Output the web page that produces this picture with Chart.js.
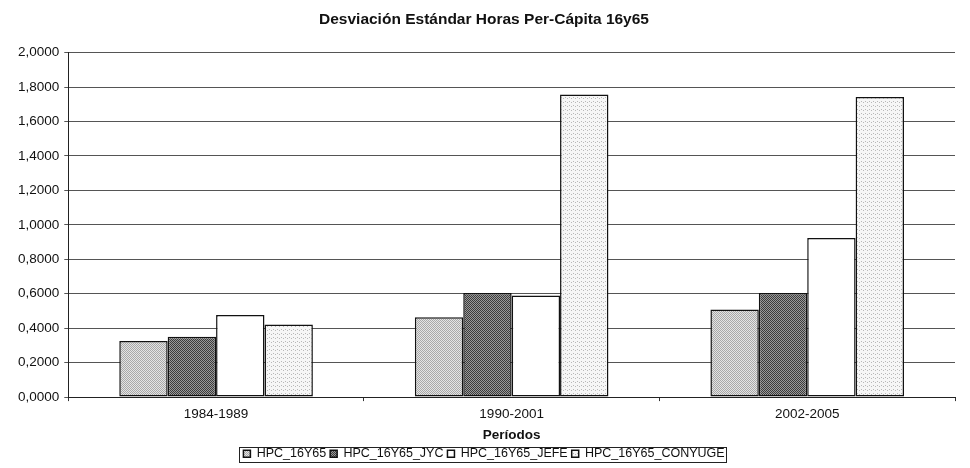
<!DOCTYPE html>
<html>
<head>
<meta charset="utf-8">
<script src="https://cdn.jsdelivr.net/npm/chart.js@4.4.0/dist/chart.umd.min.js"></script>
<style>
  html, body { margin: 0; padding: 0; background: #fff; }
  #wrap { width: 970px; height: 468px; }
</style>
</head>
<body>
<div id="wrap"><canvas id="chart" width="970" height="468"></canvas></div>
<script>
const periods = ["1984-1989", "1990-2001", "2002-2005"];
const seriesNames = ["HPC_16Y65", "HPC_16Y65_JYC", "HPC_16Y65_JEFE", "HPC_16Y65_CONYUGE"];
const hpc = [0.325, 0.464, 0.509];
const hpcJyc = [0.351, 0.605, 0.605];
const hpcJefe = [0.476, 0.590, 0.923];
const hpcConyuge = [0.422, 1.757, 1.742];

// small dithered tiles to mimic the printed hatching
function makePattern(kind) {
  const c = document.createElement("canvas");
  c.width = 4; c.height = 4;
  const g = c.getContext("2d");
  if (kind === "light") {
    g.fillStyle = "#e4e4e4"; g.fillRect(0, 0, 4, 4);
    g.fillStyle = "#a8a8a8";
    [[0,0],[2,0],[1,1],[3,1],[0,2],[2,2],[1,3],[3,3]].forEach(p => g.fillRect(p[0], p[1], 1, 1));
  } else if (kind === "dark") {
    g.fillStyle = "#9a9a9a"; g.fillRect(0, 0, 4, 4);
    g.fillStyle = "#3c3c3c";
    [[0,0],[2,0],[1,1],[3,1],[0,2],[2,2],[1,3],[3,3]].forEach(p => g.fillRect(p[0], p[1], 1, 1));
  } else if (kind === "sparse") {
    g.fillStyle = "#f6f6f6"; g.fillRect(0, 0, 4, 4);
    g.fillStyle = "#b8b8b8";
    g.fillRect(1, 1, 1, 1);
    g.fillRect(3, 2, 1, 1);
  } else {
    g.fillStyle = "#ffffff"; g.fillRect(0, 0, 4, 4);
  }
  return g.createPattern(c, "repeat");
}

const fills = [makePattern("light"), makePattern("dark"), makePattern("white"), makePattern("sparse")];
const values = [hpc, hpcJyc, hpcJefe, hpcConyuge];

const legendBox = {
  id: "legendBox",
  afterDraw(chart) {
    const l = chart.legend;
    if (!l) return;
    const ctx = chart.ctx;
    const items = l.legendHitBoxes;
    if (!items.length) return;
    const x0 = items[0].left - 4;
    const last = items[items.length - 1];
    const x1 = last.left + last.width + 2;
    ctx.save();
    ctx.strokeStyle = "#222";
    ctx.lineWidth = 1;
    ctx.strokeRect(Math.round(x0) + 0.5, Math.round(items[0].top - 1) + 0.5, Math.round(x1 - x0), Math.round(items[0].height + 2));
    ctx.restore();
  }
};

Chart.defaults.font.family = "'Liberation Sans', Arial, sans-serif";
Chart.defaults.color = "#111";

new Chart(document.getElementById("chart"), {
  type: "bar",
  data: {
    labels: periods,
    datasets: seriesNames.map((name, i) => ({
      label: name,
      data: values[i],
      backgroundColor: fills[i],
      borderColor: "#111",
      borderWidth: 1.5,
      borderSkipped: false,
      barPercentage: 1,
      categoryPercentage: 0.655
    }))
  },
  options: {
    responsive: false,
    animation: false,
    layout: { padding: { left: 13, right: 15, top: 4, bottom: -2 } },
    scales: {
      x: {
        grid: { display: true, drawOnChartArea: false, drawTicks: true, tickLength: 4, color: "#333", offset: true },
        border: { color: "#222", width: 1 },
        ticks: { font: { size: 13.5 }, color: "#111", padding: 5 },
        title: { display: true, text: "Períodos", font: { size: 13.5, weight: "bold" }, color: "#111", padding: { top: 0, bottom: 0 } }
      },
      y: {
        min: 0,
        max: 2,
        ticks: {
          stepSize: 0.2,
          font: { size: 13.5 },
          color: "#111",
          padding: 5,
          callback: v => v.toFixed(4).replace(".", ",")
        },
        grid: { color: "#555", lineWidth: 1, tickLength: 4 },
        border: { color: "#222", width: 1 }
      }
    },
    plugins: {
      title: {
        display: true,
        text: "Desviación Estándar Horas Per-Cápita 16y65",
        font: { size: 15.5, weight: "bold" },
        color: "#111",
        padding: { top: 6, bottom: 24 }
      },
      legend: {
        position: "bottom",
        labels: {
          boxWidth: 7,
          boxHeight: 7,
          padding: 4,
          font: { size: 12.5 },
          color: "#111"
        }
      },
      tooltip: { enabled: false }
    }
  },
  plugins: [legendBox]
});
</script>
</body>
</html>
